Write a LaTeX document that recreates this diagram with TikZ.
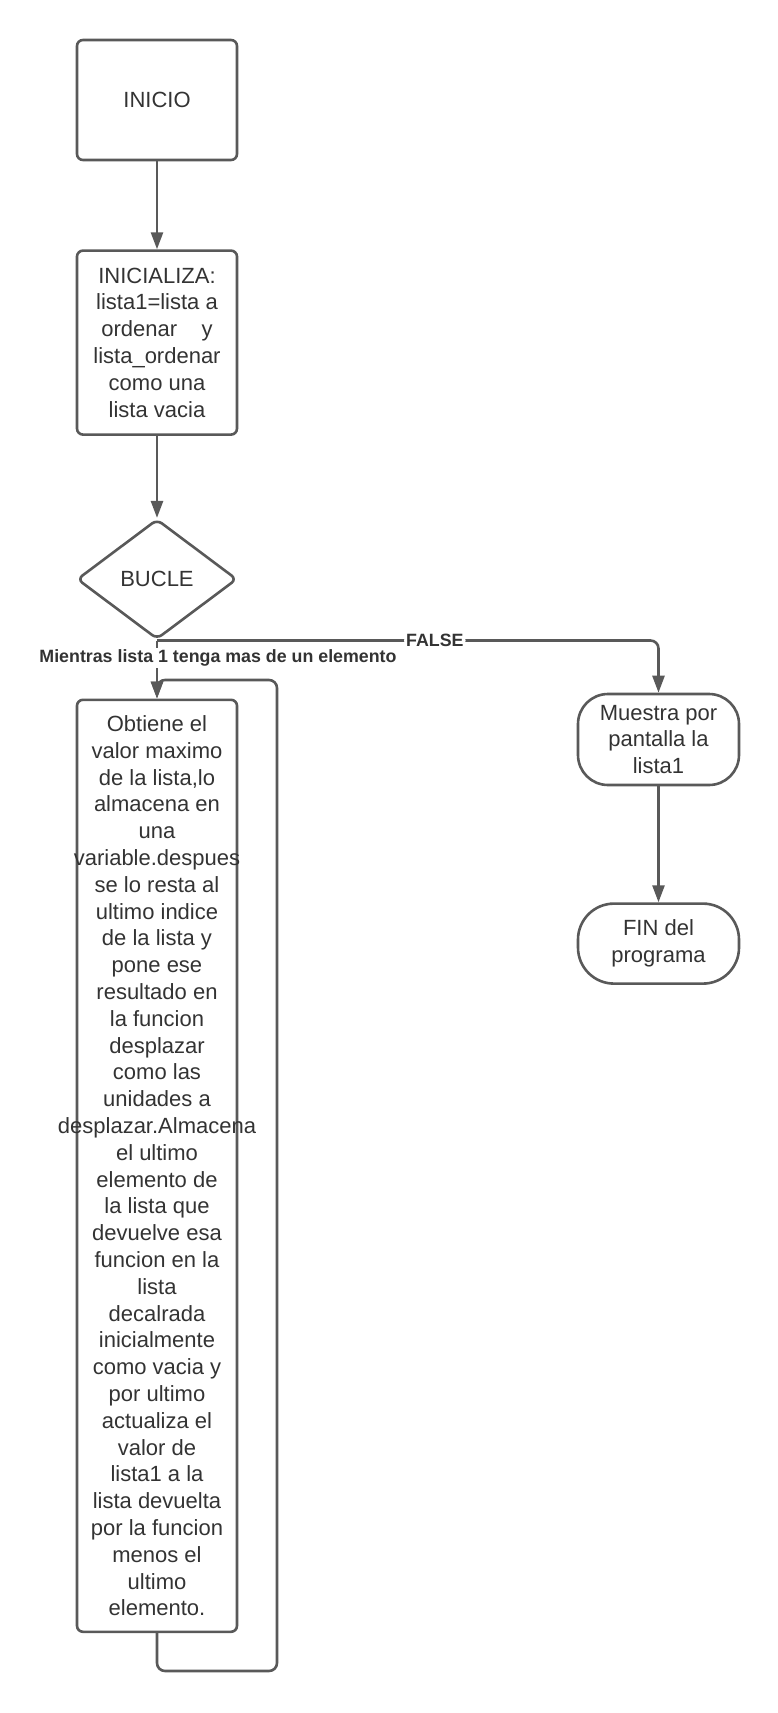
\documentclass[tikz,border=0pt]{standalone}
\usepackage{fontspec}
\setmainfont{Liberation Sans}
\usepackage{tikz}
\usetikzlibrary{shapes.geometric}
\usetikzlibrary{arrows.meta}
\usetikzlibrary{positioning}

\definecolor{linegray}{HTML}{595959}
\definecolor{textgray}{HTML}{333333}

\begin{document}
\begin{tikzpicture}[x=0.5pt, y=-0.5pt,
  every node/.style={text=textgray, font=\fontsize{11}{13.4}\selectfont, align=center},
  box/.style={draw=linegray, line width=1.3pt, rectangle, rounded corners=3pt, minimum width=80pt, inner sep=1pt},
  term/.style={draw=linegray, line width=1.3pt, rectangle, minimum width=80.5pt, inner sep=1pt},
  decision/.style={draw=linegray, line width=1.3pt, diamond, rounded corners=3pt, minimum width=80pt, minimum height=60pt, inner sep=0pt},
  flow/.style={draw=linegray, line width=1.3pt, -{Triangle[length=8.5pt,width=6pt]}},
  tag/.style={font=\bfseries\fontsize{8.9}{10}\selectfont, text=textgray, fill=white, inner sep=1pt}]
\useasboundingbox (0,0) rectangle (777,1713);

\node[box, minimum height=60pt] (inicio) at (157,100) {INICIO};
\node[box, minimum height=92pt, below=44pt of inicio] (inicializa) {INICIALIZA:\\lista1=lista a\\ordenar\ \ \ \ y\\lista\_ordenar\\como una\\lista vacia};
\node[decision, below=41pt of inicializa] (bucle) {BUCLE};
\node[box, minimum height=466pt, below=29pt of bucle] (proceso) {};
\node (procesotxt) at (proceso) {Obtiene el\\valor maximo\\de la lista,lo\\almacena en\\una\\variable.despues\\se lo resta al\\ultimo indice\\de la lista y\\pone ese\\resultado en\\la funcion\\desplazar\\como las\\unidades a\\desplazar.Almacena\\el ultimo\\elemento de\\la lista que\\devuelve esa\\funcion en la\\lista\\decalrada\\inicialmente\\como vacia y\\por ultimo\\actualiza el\\valor de\\lista1 a la\\lista devuelta\\por la funcion\\menos el\\ultimo\\elemento.};

\node[term, rounded corners=15pt, minimum height=45.5pt] (muestra) at (658.5,739.5) {Muestra por\\pantalla la\\lista1};
\node[term, rounded corners=18pt, minimum height=40pt, below=58pt of muestra] (fin) {FIN del\\programa};

\coordinate (loopbottom) at (277,1671);
\coordinate (looptop) at (277,680);

\draw[flow] (inicio) -- (inicializa);
\draw[flow] (inicializa) -- (bucle);
\draw[flow, rounded corners=4pt] (bucle.south) -| (muestra.north) node[tag, pos=0.277] {FALSE};
\draw[flow] (muestra) -- (fin);
\draw[flow, rounded corners=4pt] (proceso.south) |- (loopbottom) -- (looptop) -| (proceso.north);
\draw[flow] (bucle.south) -- (proceso.north) node[tag, pos=0.3, xshift=30.5pt] {Mientras lista 1 tenga mas de un elemento};
\end{tikzpicture}
\end{document}
